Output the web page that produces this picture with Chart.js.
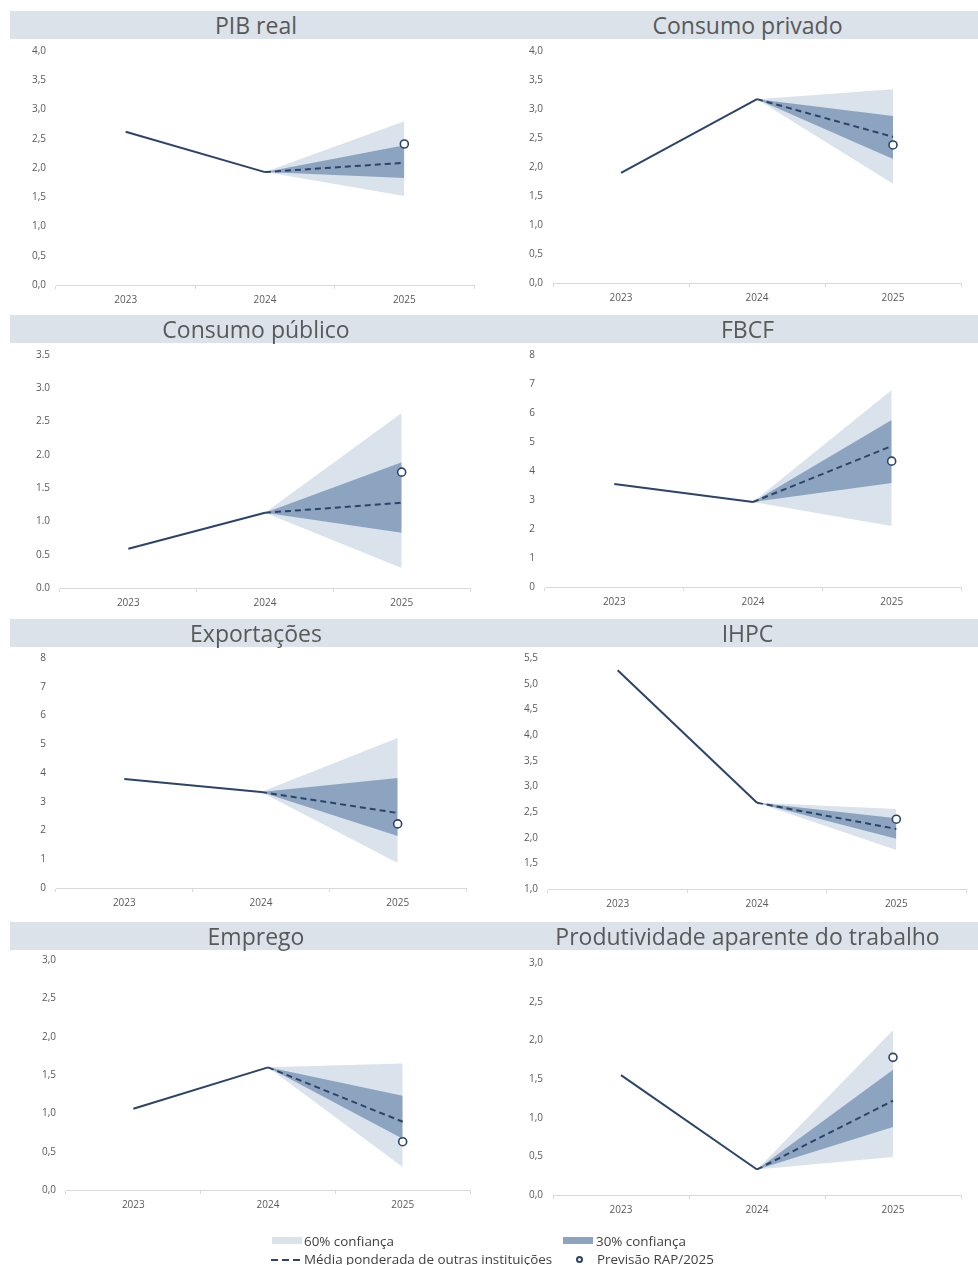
<!DOCTYPE html>
<html>
<head>
<meta charset="utf-8">
<script src="https://cdn.jsdelivr.net/npm/chart.js@4.4.1/dist/chart.umd.min.js"></script>
<style>
  body { margin: 0; background: #fff; font-family: 'Open Sans', sans-serif; }
  #page { position: relative; width: 978px; height: 1265px; overflow: hidden; }
  .bar { position: absolute; height: 28px; background: #dbe2ea; }
  .ttl { position: absolute; width: 500px; height: 28px; line-height: 28px; text-align: center;
         font-size: 23px; color: #595959; white-space: nowrap; }
  canvas { position: absolute; }
  .lg { position: absolute; font-size: 13.4px; line-height: 16px; color: #404040; white-space: nowrap; }
  .sw { position: absolute; width: 30px; height: 7px; }
  .dash { position: absolute; width: 7px; height: 2px; background: #2b4468; }
  .dot { position: absolute; width: 3px; height: 3px; border: 2px solid #2b4468; border-radius: 50%; background: #fff; }
</style>
</head>
<body>
<div id="page"></div>
<script>
// values (growth rates, %)
const years = ['2023', '2024', '2025'];
const titles = ['PIB real', 'Consumo privado', 'Consumo público', 'FBCF',
                'Exportações', 'IHPC', 'Emprego', 'Produtividade aparente do trabalho'];
const actual2023 = [2.62, 1.90, 0.59, 3.55, 3.79, 5.26, 1.06, 1.55];
const actual2024 = [1.93, 3.17, 1.13, 2.93, 3.34, 2.68, 1.60, 0.33];
const upper60 = [2.80, 3.34, 2.63, 6.79, 5.22, 2.56, 1.65, 2.13];
const lower60 = [1.52, 1.71, 0.30, 2.10, 0.87, 1.76, 0.30, 0.49];
const upper30 = [2.39, 2.88, 1.89, 5.76, 3.83, 2.38, 1.23, 1.62];
const lower30 = [1.83, 2.14, 0.83, 3.59, 1.81, 1.98, 0.67, 0.88];
const meanOthers = [2.09, 2.52, 1.28, 4.86, 2.61, 2.17, 0.89, 1.22];
const rap2025 = [2.41, 2.38, 1.74, 4.34, 2.23, 2.36, 0.63, 1.78];

// y axis ticks
const yMin = [0, 0, 0, 0, 0, 1, 0, 0];
const yMax = [4, 4, 3.5, 8, 8, 5.5, 3, 3];
const yStep = [0.5, 0.5, 0.5, 1, 1, 0.5, 0.5, 0.5];
const yDecimals = [1, 1, 1, 0, 0, 1, 1, 1];
const yDecimalSep = [',', ',', '.', ',', ',', ',', ',', ','];

const NAVY = '#2b4468';
const BAND60 = '#dae2eb';
const BAND30 = '#8da4c0';
const TICK = '#595959';
const FONT = "'Open Sans', sans-serif";

// page geometry of every panel: canvas box + plot area
// canvases start a bit above the plot so chart.js has room for the top tick label
const rowTop = [27, 331, 635, 938];
const rowH = [288, 288, 287, 287];
const barTop = [11, 315, 619, 922];
const plots = [
  { l: 56, r: 474, t: 51, b: 285 },
  { l: 553, r: 961, t: 51, b: 283 },
  { l: 60, r: 470, t: 355, b: 588 },
  { l: 545, r: 961, t: 355, b: 587 },
  { l: 56, r: 466, t: 658, b: 888 },
  { l: 548, r: 966, t: 658, b: 889 },
  { l: 66, r: 470, t: 960, b: 1190 },
  { l: 553, r: 961, t: 963, b: 1195 }
];
const XAXIS_H = 25;

const page = document.getElementById('page');

function el(tag, cls, style, text) {
  const e = document.createElement(tag);
  if (cls) e.className = cls;
  Object.assign(e.style, style);
  if (text) e.textContent = text;
  page.appendChild(e);
  return e;
}

titles.forEach((title, i) => {
  const row = Math.floor(i / 2), col = i % 2;
  const cx = col === 0 ? 0 : 490;
  const cw = col === 0 ? 490 : 488;
  const p = plots[i];

  el('div', 'bar', { left: (col === 0 ? 10 : 490) + 'px', width: (col === 0 ? 480 : 488) + 'px', top: barTop[row] + 'px' });
  el('div', 'ttl', { left: ((col === 0 ? 256 : 747.5) - 250) + 'px', top: barTop[row] + 'px' }, title);

  const canvas = el('canvas', null, { left: cx + 'px', top: rowTop[row] + 'px' });
  canvas.width = cw;
  canvas.height = rowH[row];

  const a24 = actual2024[i];
  new Chart(canvas, {
    type: 'line',
    data: {
      labels: years,
      datasets: [
        { label: 'Previsão RAP/2025', data: [null, null, rap2025[i]], showLine: false,
          pointRadius: 4, pointBackgroundColor: '#fff', pointBorderColor: NAVY, pointBorderWidth: 1.6, order: 0 },
        { label: 'Observado', data: [actual2023[i], a24, null], borderColor: NAVY, borderWidth: 2,
          pointRadius: 0, order: 1 },
        { label: 'Média ponderada de outras instituições', data: [null, a24, meanOthers[i]], borderColor: NAVY,
          borderWidth: 2, borderDash: [6, 4], pointRadius: 0, order: 2 },
        { label: '30% sup', data: [null, a24, upper30[i]], borderColor: 'transparent', borderWidth: 0,
          backgroundColor: BAND30, fill: 4, pointRadius: 0, order: 3 },
        { label: '30% inf', data: [null, a24, lower30[i]], borderColor: 'transparent', borderWidth: 0,
          fill: false, pointRadius: 0, order: 4 },
        { label: '60% sup', data: [null, a24, upper60[i]], borderColor: 'transparent', borderWidth: 0,
          backgroundColor: BAND60, fill: 6, pointRadius: 0, order: 5 },
        { label: '60% inf', data: [null, a24, lower60[i]], borderColor: 'transparent', borderWidth: 0,
          fill: false, pointRadius: 0, order: 6 }
      ]
    },
    options: {
      responsive: false,
      animation: false,
      events: [],
      layout: {
        padding: {
          left: 0,
          right: cx + cw - p.r,
          top: p.t - rowTop[row],
          bottom: rowTop[row] + rowH[row] - p.b - XAXIS_H
        }
      },
      plugins: { legend: { display: false }, tooltip: { enabled: false }, title: { display: false } },
      scales: {
        x: {
          type: 'category',
          offset: true,
          grid: { offset: true, drawOnChartArea: false, drawTicks: true, tickLength: 4, color: '#d9d9d9' },
          border: { display: true, color: '#d9d9d9', width: 1 },
          ticks: { color: TICK, font: { size: 10, family: FONT }, padding: 5, maxRotation: 0 },
          afterFit(s) { s.height = XAXIS_H; }
        },
        y: {
          min: yMin[i],
          max: yMax[i],
          grid: { display: false, drawTicks: false },
          border: { display: false },
          ticks: {
            stepSize: yStep[i],
            color: TICK,
            font: { size: 10, family: FONT },
            padding: 10,
            callback: v => Number(v).toFixed(yDecimals[i]).replace('.', yDecimalSep[i])
          },
          afterFit(s) { s.width = p.l - cx; }
        }
      }
    }
  });
});

// shared legend
el('div', 'sw', { left: '272px', top: '1237px', background: BAND60 });
el('div', 'lg', { left: '304px', top: '1233px' }, '60% confiança');
el('div', 'sw', { left: '563px', top: '1237px', background: BAND30 });
el('div', 'lg', { left: '596px', top: '1233px' }, '30% confiança');
[271, 282, 293].forEach(x => el('div', 'dash', { left: x + 'px', top: '1259px' }));
el('div', 'lg', { left: '304px', top: '1251px' }, 'Média ponderada de outras instituições');
el('div', 'dot', { left: '575.5px', top: '1256px' });
el('div', 'lg', { left: '597px', top: '1251px' }, 'Previsão RAP/2025');
</script>
</body>
</html>
